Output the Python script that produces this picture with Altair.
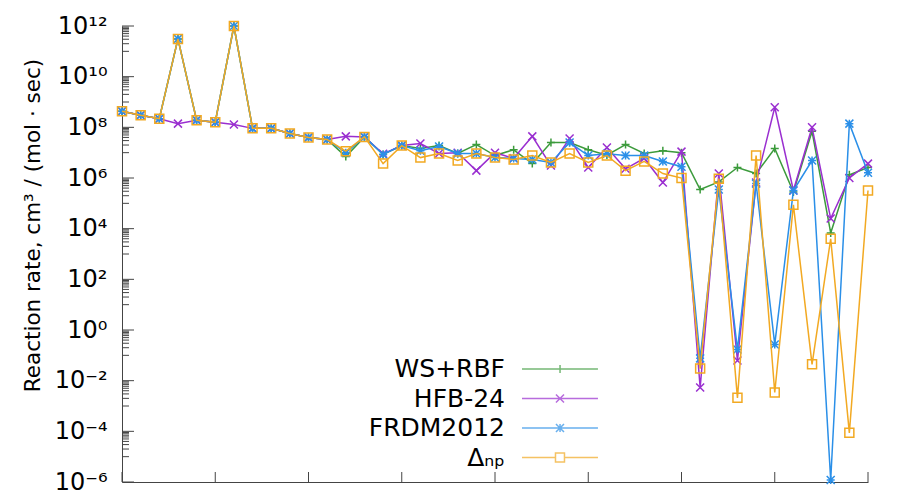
import altair as alt
import pandas as pd
import math

# ---- data ----
idx = list(range(41))
series_names = ["WS+RBF", "HFB-24", "FRDM2012", "Δₙₚ"]

ws_rbf = [4.3e8, 3.0e8, 2.2e8, 3.1e11, 1.9e8, 1.6e8, 1.0e12, 9.1e7, 9.1e7, 5.7e7,
          4.0e7, 3.3e7, 7.0e6, 4.2e7, 8.5e6, 1.9e7, 1.45e7, 1.9e7, 9.3e6, 2.1e7,
          7.7e6, 1.3e7, 3.7e6, 2.5e7, 2.5e7, 1.3e7, 8.0e6, 2.1e7, 9.3e6, 1.2e7,
          1.0e7, 3.5e5, 7.0e5, 2.6e6, 1.5e6, 1.45e7, 2.8e5, 7.0e7, 6.8e3, 1.35e6,
          2.6e6]
hfb24 = [4.3e8, 3.0e8, 2.2e8, 1.4e8, 1.9e8, 1.6e8, 1.3e8, 9.1e7, 9.1e7, 5.7e7,
         4.0e7, 3.3e7, 4.4e7, 4.2e7, 9.0e6, 1.9e7, 2.3e7, 9.3e6, 1.0e7, 1.95e6,
         1.0e7, 6.0e6, 4.4e7, 3.1e6, 3.6e7, 2.6e6, 1.6e7, 2.3e6, 6.0e6, 6.6e5,
         1.1e7, 5.4e-3, 1.5e6, 6.3e-2, 6.6e5, 6.2e8, 3.2e5, 1.0e8, 2.5e4, 1.0e6,
         3.7e6]
frdm2012 = [4.3e8, 3.0e8, 2.2e8, 3.1e11, 1.9e8, 1.6e8, 1.0e12, 9.1e7, 9.1e7, 5.7e7,
            4.0e7, 3.3e7, 1.0e7, 4.2e7, 8.5e6, 1.9e7, 1.2e7, 1.75e7, 9.3e6, 9.3e6,
            6.4e6, 5.9e6, 5.4e6, 4.1e6, 2.5e7, 7.7e6, 9.0e6, 7.7e6, 7.7e6, 4.5e6,
            2.8e6, 7.6e-2, 3.5e5, 1.7e-1, 6.0e5, 2.7e-1, 3.2e5, 4.9e6, 1.2e-6, 1.4e8,
            1.6e6]
delta_np = [4.3e8, 3.0e8, 2.2e8, 3.1e11, 1.9e8, 1.6e8, 1.0e12, 9.1e7, 9.1e7, 5.7e7,
            4.0e7, 3.3e7, 1.15e7, 4.2e7, 3.7e6, 1.9e7, 6.4e6, 9.3e6, 4.9e6, 9.3e6,
            6.4e6, 5.4e6, 7.7e6, 4.1e6, 9.3e6, 4.1e6, 7.7e6, 1.95e6, 4.5e6, 1.5e6,
            1.0e6, 3.0e-2, 9.4e5, 2.1e-3, 7.7e6, 3.4e-3, 8.7e4, 4.4e-2, 4.0e3, 8.7e-5,
            3.2e5]

y_tick_values = [1e-6, 1e-4, 1e-2, 1, 1e2, 1e4, 1e6, 1e8, 1e10, 1e12]
y_tick_labels = ["10⁻⁶", "10⁻⁴", "10⁻²", "10⁰", "10²", "10⁴", "10⁶", "10⁸", "10¹⁰", "10¹²"]
# minor ticks: only in the decade just below each labelled tick (as in the reference)
y_minor_values = [m * 10.0 ** k for k in range(-5, 12, 2) for m in range(1, 10)]
x_tick_values = [0, 5, 10, 15, 20, 25, 30, 35, 40]

# ---- styles ----
colors = ["#3c9b3c", "#9a2fd0", "#2a8fe8", "#f2a922"]
marker_paths = ["M-1,0H1M0,-1V1",
                "M-1,-1L1,1M-1,1L1,-1",
                "M-1,0H1M0,-1V1M-1,-1L1,1M-1,1L1,-1",
                "square"]
marker_sizes = [64, 64, 64, 81]
# legend samples: drawn to the right of the (right-aligned) labels
legend_paths = ["M2.5,0H8.83M5.67,-0.333V0.333",
                "M2.5,0H8.83M5.33,-0.333L6,0.333M5.33,0.333L6,-0.333",
                "M2.5,0H8.83M5.67,-0.333V0.333M5.33,-0.333L6,0.333M5.33,0.333L6,-0.333",
                "M2.5,0H5.29M6.04,0H8.83M5.29,-0.375H6.04V0.375H5.29Z"]

FONT = "DejaVu Sans"
W, H = 746, 456
AX = "#444444"

xscale = alt.Scale(domain=[0, 40], nice=False, zero=False)
yscale = alt.Scale(type="log", domain=[1e-6, 1e12], nice=False)

# label expression mapping tick value -> superscript label
expr = "''"
for v, lab in reversed(list(zip(y_tick_values, y_tick_labels))):
    e = round(math.log10(v))
    expr = f"(abs(log(datum.value)/LN10 - ({e})) < 0.1 ? '{lab}' : {expr})"

all_series = [ws_rbf, hfb24, frdm2012, delta_np]
frames = []
for name, vals in zip(series_names, all_series):
    frames.append(pd.DataFrame({"idx": idx, "rate": vals, "series": name}))
df = pd.concat(frames, ignore_index=True)

x_axis = alt.Axis(title=None, labels=False, ticks=False, grid=False,
                  domainColor=AX, domainWidth=1)
y_axis = alt.Axis(title="Reaction rate, cm³ / (mol · sec)",
                  values=y_tick_values, labelExpr=expr,
                  ticks=False, grid=False, domainColor=AX, domainWidth=1,
                  labelFont=FONT, labelFontSize=24, labelColor="black",
                  labelPadding=15, labelOverlap=False,
                  titleFont=FONT, titleFontSize=21.5, titleFontWeight="normal",
                  titleColor="black", titleX=-89, titleY=199,
                  titleAngle=270, titleAlign="center", titleBaseline="middle")


def X(field):
    return alt.X(field, scale=xscale, axis=x_axis)


def Y(field):
    return alt.Y(field, scale=yscale, axis=y_axis)


layers = []
for name, vals, c, shp, sz in zip(series_names, all_series, colors, marker_paths, marker_sizes):
    d = pd.DataFrame({"idx": idx, "rate": vals})
    line = alt.Chart(d).mark_line(color=c, strokeWidth=1.5).encode(x=X("idx:Q"), y=Y("rate:Q"))
    pts = alt.Chart(d).mark_point(shape=shp, color=c, filled=False, size=sz,
                                  strokeWidth=1.5, opacity=1).encode(x=X("idx:Q"), y=Y("rate:Q"))
    layers += [line, pts]

# inward axis ticks
ymaj = alt.Chart(pd.DataFrame({"rate": y_tick_values})).mark_rule(color=AX, strokeWidth=1).encode(
    y=Y("rate:Q"), x=alt.value(0), x2=alt.value(12))
ymin = alt.Chart(pd.DataFrame({"rate": y_minor_values})).mark_rule(color=AX, strokeWidth=1).encode(
    y=Y("rate:Q"), x=alt.value(0), x2=alt.value(7))
xt = alt.Chart(pd.DataFrame({"idx": x_tick_values})).mark_rule(color=AX, strokeWidth=1).encode(
    x=X("idx:Q"), y=alt.value(H), y2=alt.value(H - 10))

# legend (labels left of line+marker samples)
leg = alt.Legend(title=None, orient="none", legendX=357, legendY=330, padding=0,
                 labelFont=FONT, labelFontSize=25, labelColor="black",
                 labelAlign="right", labelOffset=0, symbolOffset=0, symbolSize=576,
                 symbolStrokeWidth=1.5, rowPadding=3.5, labelLimit=300)
aux = alt.Chart(df).transform_filter("false").mark_point(filled=False, strokeWidth=1.5).encode(
    x=X("idx:Q"), y=Y("rate:Q"),
    color=alt.Color("series:N", scale=alt.Scale(domain=series_names, range=colors), legend=leg),
    shape=alt.Shape("series:N", scale=alt.Scale(domain=series_names, range=legend_paths), legend=leg))

chart = alt.layer(*layers, ymin, ymaj, xt, aux).properties(
    width=W, height=H, background="white",
    autosize=alt.AutoSizeParams(type="none"),
    padding={"left": 114, "top": 18, "right": 12, "bottom": 12},
).configure_view(stroke=None)

chart.save("out.html", embed_options={"renderer": "svg", "actions": False})
